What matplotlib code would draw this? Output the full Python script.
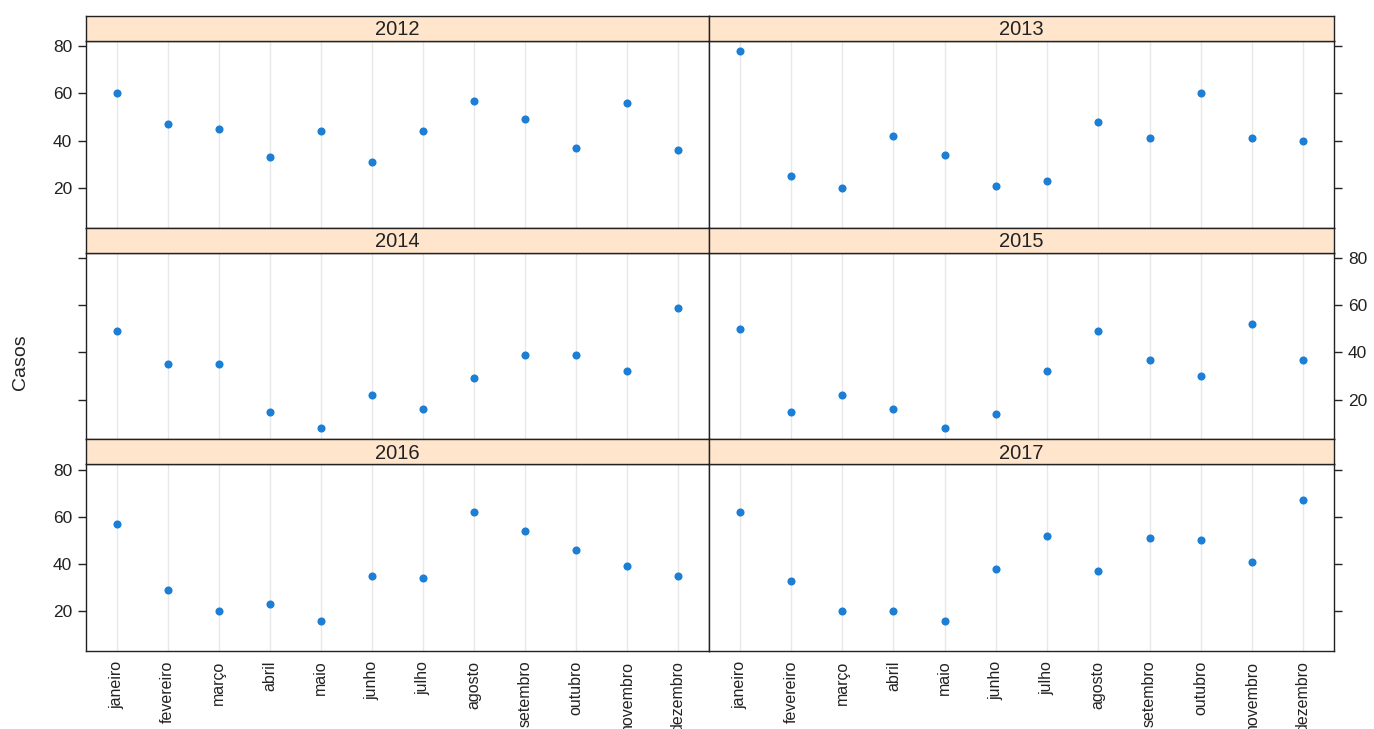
import matplotlib
matplotlib.use("Agg")
import matplotlib.pyplot as plt

plt.rcParams["font.family"] = ["Liberation Sans", "DejaVu Sans"]

meses = ["janeiro", "fevereiro", "março", "abril", "maio", "junho",
         "julho", "agosto", "setembro", "outubro", "novembro", "dezembro"]

anos = ["2012", "2013", "2014", "2015", "2016", "2017"]

casos_2012 = [60, 47, 45, 33, 44, 31, 44, 57, 49, 37, 56, 36]
casos_2013 = [78, 25, 20, 42, 34, 21, 23, 48, 41, 60, 41, 40]
casos_2014 = [49, 35, 35, 15, 8, 22, 16, 29, 39, 39, 32, 59]
casos_2015 = [50, 15, 22, 16, 8, 14, 32, 49, 37, 30, 52, 37]
casos_2016 = [57, 29, 20, 23, 16, 35, 34, 62, 54, 46, 39, 35]
casos_2017 = [62, 33, 20, 20, 16, 38, 52, 37, 51, 50, 41, 67]

series = [casos_2012, casos_2013, casos_2014, casos_2015, casos_2016, casos_2017]
y_ticks = [20, 40, 60, 80]

W, H = 1374, 729
fig = plt.figure(figsize=(W / 100, H / 100), dpi=100)

col_x = [(86, 709), (709, 1334)]
top0 = 16
row_h = 211.7
strip_h = 25
edge = "#222222"
point_color = "#1b7fd6"


def px_rect(x0, x1, y0, y1):
    return [x0 / W, 1 - y1 / H, (x1 - x0) / W, (y1 - y0) / H]


for i, (ano, vals) in enumerate(zip(anos, series)):
    row, col = divmod(i, 2)
    x0, x1 = col_x[col]
    s0 = top0 + row * row_h
    s1 = s0 + strip_h
    p1 = top0 + (row + 1) * row_h

    ax = fig.add_axes(px_rect(x0, x1, s1, p1))
    xs = list(range(1, len(meses) + 1))
    for x in xs:
        ax.axvline(x, color="#e8e8e8", lw=1, zorder=1)
    ax.scatter(xs, vals, s=34, color=point_color, marker="o", zorder=3, linewidths=0)
    ax.set_xlim(0.4, 12.6)
    ax.set_ylim(3.2, 82.2)
    ax.set_yticks(y_ticks)
    for sp in ax.spines.values():
        sp.set_color(edge)
        sp.set_linewidth(1)

    label_left = (row % 2 == 0)
    ax.tick_params(axis="y", which="both", direction="out", length=6, width=1,
                   color=edge, labelsize=12.5, labelcolor="#222222",
                   left=(col == 0), right=(col == 1),
                   labelleft=(col == 0 and label_left),
                   labelright=(col == 1 and not label_left), pad=4)

    if row == 2:
        ax.set_xticks(xs)
        ax.set_xticklabels(meses, rotation=90, fontsize=11.5, color="#222222")
        ax.tick_params(axis="x", length=0, pad=7)
    else:
        ax.set_xticks([])

    sax = fig.add_axes(px_rect(x0, x1, s0, s1))
    sax.set_facecolor("#ffe5cc")
    sax.set_xticks([])
    sax.set_yticks([])
    for sp in sax.spines.values():
        sp.set_color(edge)
        sp.set_linewidth(1)
    sax.text(0.5, 0.45, ano, ha="center", va="center", fontsize=14.5,
             color="#222222", transform=sax.transAxes)

fig.text(20 / W, 1 - 362 / H, "Casos", rotation=90, ha="center", va="center",
         fontsize=14, color="#222222")

fig.savefig("out.png", dpi=100)
